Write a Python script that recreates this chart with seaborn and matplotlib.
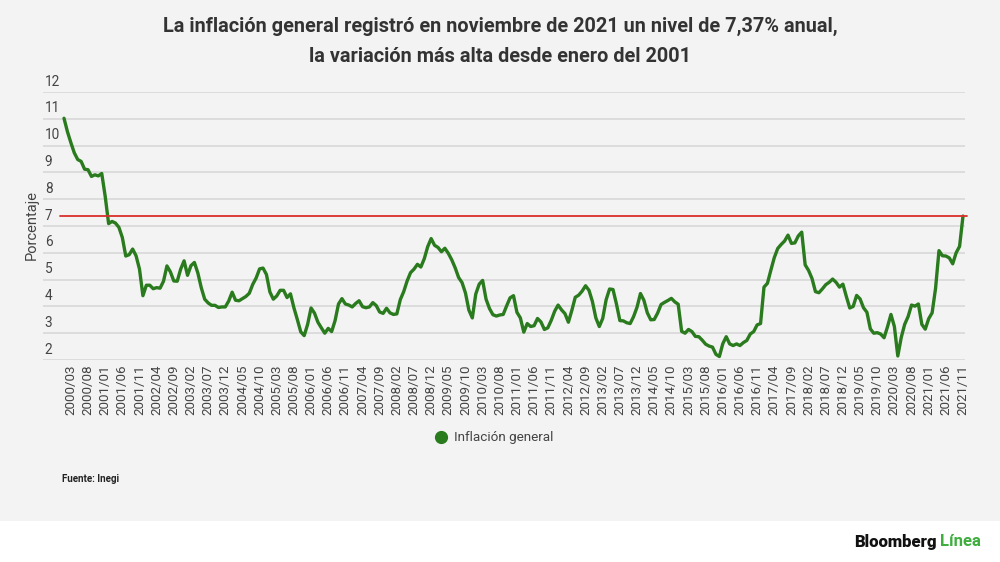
import numpy as np
import pandas as pd
import matplotlib
matplotlib.use("Agg")
import matplotlib.pyplot as plt
import seaborn as sns
from matplotlib.lines import Line2D
from matplotlib.patches import Rectangle
from matplotlib.transforms import blended_transform_factory

# inflación general anual (%), mensual
infl_2000 = [11.02, 10.52, 10.11, 9.73, 9.48, 9.41, 9.12, 9.10, 8.85, 8.91, 8.87, 8.96]
infl_2001 = [8.11, 7.09, 7.17, 7.11, 6.95, 6.57, 5.88, 5.93, 6.14, 5.89, 5.39, 4.40]
infl_2002 = [4.79, 4.79, 4.66, 4.70, 4.68, 4.94, 5.51, 5.29, 4.95, 4.94, 5.39, 5.70]
infl_2003 = [5.16, 5.52, 5.64, 5.25, 4.70, 4.27, 4.13, 4.04, 4.04, 3.96, 3.98, 3.98]
infl_2004 = [4.20, 4.53, 4.23, 4.21, 4.29, 4.37, 4.49, 4.82, 5.06, 5.40, 5.43, 5.19]
infl_2005 = [4.54, 4.27, 4.39, 4.60, 4.60, 4.33, 4.47, 3.95, 3.51, 3.05, 2.91, 3.33]
infl_2006 = [3.94, 3.75, 3.41, 3.20, 3.00, 3.18, 3.06, 3.47, 4.09, 4.29, 4.09, 4.05]
infl_2007 = [3.98, 4.11, 4.21, 3.99, 3.95, 3.98, 4.14, 4.03, 3.79, 3.74, 3.93, 3.76]
infl_2008 = [3.70, 3.72, 4.25, 4.55, 4.95, 5.26, 5.39, 5.57, 5.47, 5.78, 6.23, 6.53]
infl_2009 = [6.28, 6.20, 6.04, 6.17, 5.98, 5.74, 5.44, 5.08, 4.89, 4.50, 3.86, 3.57]
infl_2010 = [4.46, 4.83, 4.97, 4.27, 3.92, 3.69, 3.64, 3.68, 3.70, 4.02, 4.32, 4.40]
infl_2011 = [3.78, 3.57, 3.04, 3.36, 3.25, 3.28, 3.55, 3.42, 3.14, 3.20, 3.48, 3.82]
infl_2012 = [4.05, 3.87, 3.73, 3.41, 3.85, 4.34, 4.42, 4.57, 4.77, 4.60, 4.18, 3.57]
infl_2013 = [3.25, 3.55, 4.25, 4.65, 4.63, 4.09, 3.47, 3.46, 3.39, 3.36, 3.62, 3.97]
infl_2014 = [4.48, 4.23, 3.76, 3.50, 3.51, 3.75, 4.07, 4.15, 4.22, 4.30, 4.17, 4.08]
infl_2015 = [3.07, 3.00, 3.14, 3.06, 2.88, 2.87, 2.74, 2.59, 2.52, 2.48, 2.21, 2.13]
infl_2016 = [2.61, 2.87, 2.60, 2.54, 2.60, 2.54, 2.65, 2.73, 2.97, 3.06, 3.31, 3.36]
infl_2017 = [4.72, 4.86, 5.35, 5.82, 6.16, 6.31, 6.44, 6.66, 6.35, 6.37, 6.63, 6.77]
infl_2018 = [5.55, 5.34, 5.04, 4.55, 4.51, 4.65, 4.81, 4.90, 5.02, 4.90, 4.72, 4.83]
infl_2019 = [4.37, 3.94, 4.00, 4.41, 4.28, 3.95, 3.78, 3.16, 3.00, 3.02, 2.97, 2.83]
infl_2020 = [3.24, 3.70, 3.25, 2.15, 2.84, 3.33, 3.62, 4.05, 4.01, 4.09, 3.33, 3.15]
infl_2021 = [3.54, 3.76, 4.67, 6.08, 5.89, 5.88, 5.81, 5.59, 6.00, 6.24, 7.37]

years = [infl_2000, infl_2001, infl_2002, infl_2003, infl_2004, infl_2005, infl_2006,
         infl_2007, infl_2008, infl_2009, infl_2010, infl_2011, infl_2012, infl_2013,
         infl_2014, infl_2015, infl_2016, infl_2017, infl_2018, infl_2019, infl_2020,
         infl_2021]
valores = [v for y in years for v in y]
meses = pd.period_range("2000-01", periods=len(valores), freq="M").strftime("%Y/%m")
ref_val = 7.37
y_ticks = list(range(2, 13))

BG = "#f3f3f3"
GREEN = "#2a7a1e"
TXT = "#444444"

sns.set_style("white")
plt.rcParams["font.family"] = ["Roboto", "DejaVu Sans"]

df = pd.DataFrame({"idx": np.arange(len(valores)), "valor": valores, "mes": meses})

fig = plt.figure(figsize=(10, 5.62), dpi=100, facecolor=BG)
W, H = 1000, 562
ax = fig.add_axes([43 / W, 1 - 360 / H, 922 / W, 268 / H])
ax.set_facecolor(BG)

sns.lineplot(data=df, x="idx", y="valor", color=GREEN, lw=2.4, ax=ax, legend=False)

ax.axhline(ref_val, xmin=17 / 922, xmax=924 / 922, color="#d9302c", lw=1.3,
           clip_on=False, zorder=3)

px = 899 / (len(valores) - 1)
ax.set_xlim(-21 / px, len(valores) - 1 + 2 / px)
ax.set_ylim(2, 12)

for sp in ax.spines.values():
    sp.set_visible(False)

ax.set_yticks(y_ticks)
ax.set_yticklabels([])
ax.tick_params(axis="y", length=0)
ax.grid(axis="y", color="#dadada", lw=1.3)
ax.grid(axis="x", visible=False)
trans = blended_transform_factory(ax.transAxes, ax.transData)
for v in y_ticks:
    ax.text(0.002, v + 0.13, str(v), transform=trans, ha="left", va="bottom",
            fontsize=9.8, color=TXT)

tick_idx = list(range(len(valores) - 1, -1, -5))[::-1]
ax.set_xticks(tick_idx)
ax.set_xticklabels([meses[i] for i in tick_idx], rotation=90, fontsize=9.6, color=TXT)
ax.tick_params(axis="x", length=0, pad=3)
ax.set_xlabel("")
ax.set_ylabel("")

fig.text(32 / W, 1 - 225 / H, "Porcentaje", rotation=90, ha="center", va="center",
         fontsize=10.5, color=TXT)

fig.text(0.5, 1 - 26 / H, "La inflación general registró en noviembre de 2021 un nivel de 7,37% anual,",
         ha="center", va="center", fontsize=14.3, fontweight="bold", color="#333333")
fig.text(0.5, 1 - 56 / H, "la variación más alta desde enero del 2001",
         ha="center", va="center", fontsize=14.3, fontweight="bold", color="#333333")

handle = Line2D([], [], marker="o", linestyle="none", markersize=8.5,
                markerfacecolor=GREEN, markeredgecolor=GREEN)
fig.legend([handle], ["Inflación general"], loc="center", bbox_to_anchor=(494 / W, 1 - 438 / H),
           frameon=False, fontsize=9.7, labelcolor=TXT, handletextpad=0.5, handlelength=1.0)

fig.text(62 / W, 1 - 479 / H, "Fuente: Inegi", ha="left", va="center",
         fontsize=7, fontweight="bold", color="#222222")

fig.patches.append(Rectangle((0, 0), 1, 41 / H, transform=fig.transFigure,
                             facecolor="white", edgecolor="none", zorder=0))
fig.text(937 / W, 1 - 542 / H, "Bloomberg", ha="right", va="center",
         fontsize=12, fontweight="heavy", color="#111111")
fig.text(940 / W, 1 - 542 / H, "Línea", ha="left", va="center",
         fontsize=12, fontweight="bold", color="#3fae3f")

fig.savefig("out.png", dpi=100, facecolor=BG)
